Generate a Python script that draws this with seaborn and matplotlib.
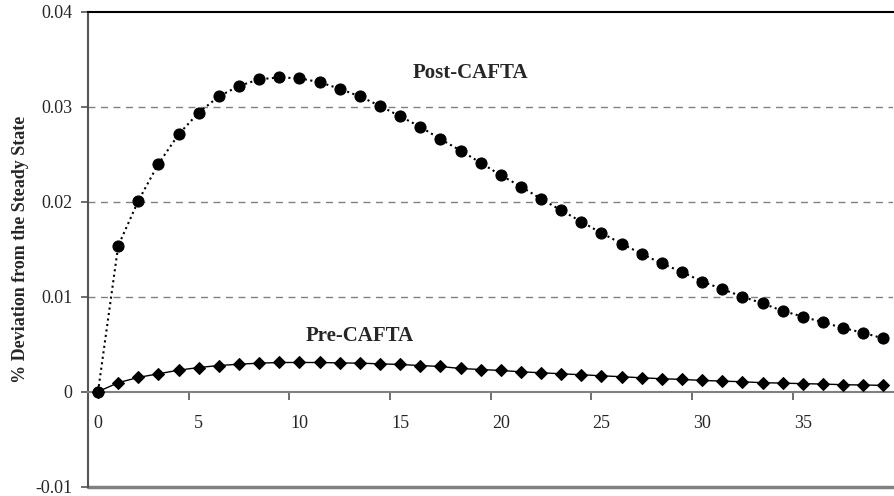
import numpy as np
import pandas as pd
import seaborn as sns
import matplotlib.pyplot as plt

# 기간 (0 ~ 39)
periods = list(range(40))

# Post-CAFTA 경로
post_cafta = [0.0, 0.01536, 0.0201, 0.0240, 0.0271, 0.0294, 0.0311, 0.0322, 0.0329, 0.0331,
              0.0330, 0.0326, 0.0319, 0.0311, 0.0301, 0.0290, 0.0279, 0.0266, 0.0254, 0.0241,
              0.0228, 0.0216, 0.0203, 0.0191, 0.0179, 0.0167, 0.0156, 0.0145, 0.0135, 0.0126,
              0.0116, 0.0108, 0.0100, 0.0093, 0.0085, 0.0079, 0.0073, 0.0067, 0.0062, 0.0056]

# Pre-CAFTA 경로
pre_cafta = [0.0, 0.00094, 0.0015, 0.00188, 0.00226, 0.00254, 0.00275, 0.00289, 0.0030, 0.00307,
             0.00307, 0.00307, 0.00303, 0.0030, 0.00293, 0.00286, 0.00275, 0.00265, 0.00244, 0.00233,
             0.00223, 0.00209, 0.00199, 0.00188, 0.00178, 0.00167, 0.00157, 0.00146, 0.00136, 0.00129,
             0.00118, 0.00111, 0.00104, 0.00094, 0.0009, 0.00084, 0.0008, 0.00073, 0.0007, 0.00066]

x_labels = [0, 5, 10, 15, 20, 25, 30, 35]
y_ticks = [-0.01, 0, 0.01, 0.02, 0.03, 0.04]
y_ticklabels = ['-0.01', '0', '0.01', '0.02', '0.03', '0.04']

sns.set_style('white')
plt.rcParams['font.family'] = ['Liberation Serif', 'DejaVu Serif']

df = pd.DataFrame({'period': periods, 'post': post_cafta, 'pre': pre_cafta})

fig = plt.figure(figsize=(8.95, 4.96), dpi=100)
ax = fig.add_axes([0.0983, 0.019, 0.90, 0.957])

# 그리드 (점선)
for yv in [0.01, 0.02, 0.03]:
    ax.axhline(yv, color='#808080', linestyle=(0, (5, 4)), linewidth=1, zorder=0)

sns.lineplot(data=df, x='period', y='post', ax=ax, color='black', linestyle=':',
             linewidth=1.5, marker='o', markersize=8, markeredgecolor='black', zorder=3)
sns.lineplot(data=df, x='period', y='pre', ax=ax, color='black', linestyle='-',
             linewidth=1, marker='D', markersize=6.5, markeredgecolor='black', zorder=3)

ax.set_xlim(-0.5, 39.5)
ax.set_ylim(-0.01, 0.04)

# x축은 0 위치
ax.spines['bottom'].set_position(('data', 0))
ax.spines['bottom'].set_color('#808080')
ax.spines['bottom'].set_linewidth(1.5)
ax.spines['left'].set_color('#555555')
ax.spines['left'].set_linewidth(1.5)
ax.spines['top'].set_color('black')
ax.spines['top'].set_linewidth(1.5)
ax.spines['right'].set_visible(False)
ax.axhline(-0.01, color='#808080', linewidth=2.5, clip_on=False, zorder=1)

ax.set_xticks([4.5, 9.5, 14.5, 19.5, 24.5, 29.5, 34.5])
ax.set_xticklabels([])
ax.set_xticks(x_labels, minor=True)
ax.set_xticklabels([str(v) for v in x_labels], minor=True, fontsize=13)
ax.tick_params(axis='x', which='major', direction='out', length=6, width=1.2, color='#555555', bottom=True)
ax.tick_params(axis='x', which='minor', length=0, pad=17)

ax.set_yticks(y_ticks)
ax.set_yticklabels(y_ticklabels, fontsize=13)
ax.tick_params(axis='y', direction='out', length=5, width=1.2, color='#555555', left=True, pad=6)

ax.set_xlabel('')
ax.set_ylabel('% Deviation from the Steady State', fontsize=13, fontweight='bold', labelpad=5)

ax.text(18.5, 0.0336, 'Post-CAFTA', fontsize=15, fontweight='bold', ha='center', va='center')
ax.text(13.0, 0.0059, 'Pre-CAFTA', fontsize=15, fontweight='bold', ha='center', va='center')

plt.savefig('out.png', dpi=100)
